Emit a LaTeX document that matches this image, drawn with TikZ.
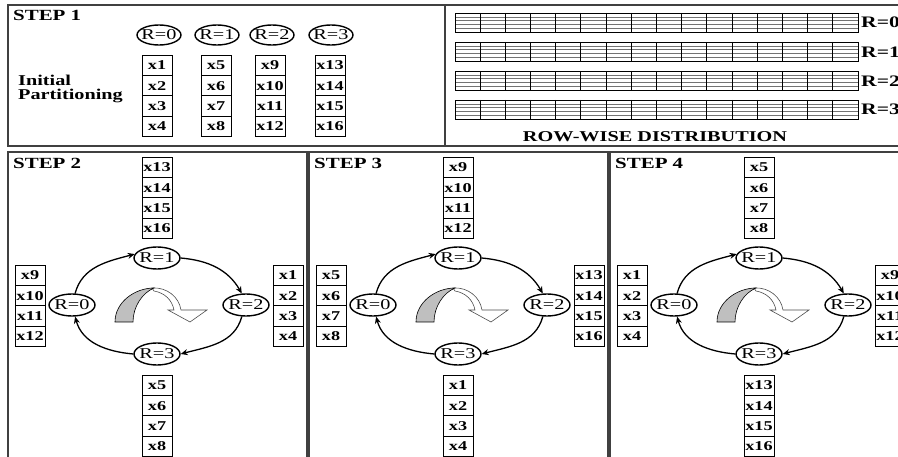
\documentclass[tikz,border=0pt]{standalone}
\usepackage{fontspec}
\setmainfont{Liberation Serif}[FakeStretch=1.35]
\usetikzlibrary{shapes.geometric,arrows.meta}

\tikzset{
  panel/.style={draw=black!75,line width=1.3pt},
  cellbox/.style={draw,line width=0.8pt,minimum width=30pt,minimum height=20.4pt,inner sep=0pt,font=\bfseries\fontsize{13.5}{14}\selectfont},
  proc/.style={draw,ellipse,line width=1.4pt,minimum width=46pt,minimum height=22pt,inner sep=0pt,font=\fontsize{15}{16}\selectfont},
  procone/.style={proc,minimum width=44pt,minimum height=20pt},
  steplabel/.style={anchor=west,inner sep=0pt,font=\bfseries\fontsize{15.5}{16}\selectfont},
  boldlabel/.style={inner sep=0pt,font=\bfseries\fontsize{15}{16}\selectfont},
  ring/.style={line width=1.3pt,-{Stealth[length=7pt,width=6pt]}},
  barline/.style={line width=0.9pt},
  barinner/.style={line width=0.6pt,draw=black!55},
}

% #1 name prefix, #2 x centre, #3 top y, #4 first index
\newcommand\cellcolumn[4]{%
  \foreach \k [evaluate=\k as \n using {int(#4+\k-1)}] in {1,2,3,4}{%
    \node[cellbox] (#1\k) at ({#2},{#3+20.4*(\k-0.5)}) {x\n};
  }%
}

% #1 panel index, #2 label, #3 top, #4 left, #5 right, #6 bottom first indices
\newcommand\steppanel[6]{%
  \pgfmathsetmacro\cx{157+301*#1}%
  \pgfmathsetmacro\px{8+301*#1}%
  \draw[panel] (\px,152) rectangle ({\px+299},470);
  \node[steplabel] (s#1) at ({\px+5},163) {#2};
  \cellcolumn{p#1top}{\cx}{157}{#3}
  \cellcolumn{p#1lft}{\cx-127}{265}{#4}
  \cellcolumn{p#1rgt}{\cx+131}{265}{#5}
  \cellcolumn{p#1bot}{\cx}{375}{#6}
  \node[proc] (p#1e0) at ({\cx-85},305) {\makebox[0pt]{R=0}};
  \node[proc] (p#1e1) at ({\cx},258) {\makebox[0pt]{R=1}};
  \node[proc] (p#1e2) at ({\cx+89},305) {\makebox[0pt]{R=2}};
  \node[proc] (p#1e3) at ({\cx},354) {\makebox[0pt]{R=3}};
  \draw[ring] (p#1e0.75) to[out=75,in=195] (p#1e1.170);
  \draw[ring] (p#1e1.east) to[out=-5,in=120] (p#1e2.110);
  \draw[ring] (p#1e2.250) to[out=-105,in=15] (p#1e3.east);
  \draw[ring] (p#1e3.west) to[out=175,in=-75] (p#1e0.285);
  \begin{scope}[shift={(\cx,305)}]
    \draw[line width=0.6pt,draw=black!70,fill=white]
      (-5,-17) .. controls (10,-18) and (22,-8) .. (24,5)
      -- (50,5) -- (33,17) -- (11,5) -- (17,5)
      .. controls (15,-5) and (8,-12) .. (-3,-14) -- cycle;
    \draw[line width=0.6pt,fill=black!25]
      (-42,17) .. controls (-42,-3) and (-22,-17) .. (-3,-17)
      .. controls (-15,-12) and (-24,2) .. (-24,17) -- cycle;
  \end{scope}
}

\begin{document}
\begin{tikzpicture}[x=1pt,y=-1pt]
\useasboundingbox (0,0) rectangle (898,457);
\clip (0,0) rectangle (898,457);
\fill[white] (0,0) rectangle (898,457);

% ---------- STEP 1 ----------
\draw[panel] (8,5) rectangle (912,146);
\draw[panel] (445,5) -- (445,146);
\node[steplabel] (s0) at (13,15) {STEP 1};
\node[procone] (e0) at (159,35) {\makebox[0pt]{R=0}};
\node[procone] (e1) at (217,35) {\makebox[0pt]{R=1}};
\node[procone] (e2) at (272,35) {\makebox[0pt]{R=2}};
\node[procone] (e3) at (331,35) {\makebox[0pt]{R=3}};
\cellcolumn{ca}{157}{55}{1}
\cellcolumn{cb}{216}{55}{5}
\cellcolumn{cc}{270}{55}{9}
\cellcolumn{cd}{330}{55}{13}
\node[boldlabel,anchor=west,align=left,font=\bfseries\fontsize{15}{13.5}\selectfont] (ip) at (18,89) {Initial\\Partitioning};

% ---------- Row-wise distribution ----------
\foreach \i in {0,1,2,3}{
  \pgfmathsetmacro\yt{13+29*\i}
  \foreach \j in {1,2,3,4}{
    \draw[barinner] (455,{\yt+3.9*\j}) -- (858,{\yt+3.9*\j});
  }
  \foreach \k in {1,...,15}{
    \draw[barline] ({455+25.1875*\k},\yt) -- ({455+25.1875*\k},{\yt+19.5});
  }
  \draw[barline] (455,\yt) rectangle (858,{\yt+19.5});
  \node[boldlabel,anchor=west,font=\bfseries\fontsize{16}{16}\selectfont] (rl\i) at (861,{\yt+9.75}) {R=\i};
}
\node[boldlabel] (rwd) at (655,137) {ROW-WISE DISTRIBUTION};

% ---------- STEPS 2-4 ----------
\steppanel{0}{STEP 2}{13}{9}{1}{5}
\steppanel{1}{STEP 3}{9}{5}{13}{1}
\steppanel{2}{STEP 4}{5}{1}{9}{13}
\end{tikzpicture}
\end{document}
